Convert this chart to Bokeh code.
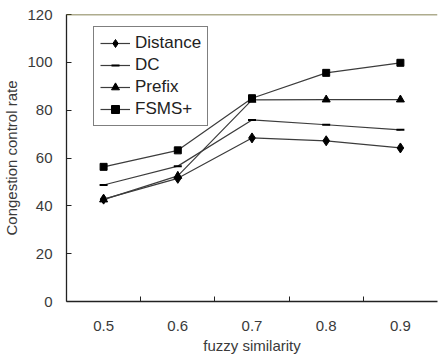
from bokeh.plotting import figure
from bokeh.models import FixedTicker, Span, Legend, LegendItem
from bokeh.embed import file_html
from bokeh.resources import INLINE

x = [0.5, 0.6, 0.7, 0.8, 0.9]
tick_labels = ["0.5", "0.6", "0.7", "0.8", "0.9"]
distance = [42.8, 51.5, 68.4, 67.2, 64.2]
dc = [48.7, 56.6, 75.9, 73.9, 71.8]
prefix = [42.6, 52.5, 84.3, 84.4, 84.4]
fsms = [56.3, 63.2, 85.0, 95.6, 99.8]

FONT = "Liberation Sans"

p = figure(width=438, height=356, output_backend="svg", toolbar_location=None,
           x_range=(0.45, 0.95), y_range=(0, 120),
           min_border_left=10, min_border_right=1, min_border_top=14, min_border_bottom=10)
p.outline_line_color = None
p.grid.grid_line_color = None
p.background_fill_color = "white"

p.xaxis.ticker = FixedTicker(ticks=x, minor_ticks=[0.55, 0.65, 0.75, 0.85])
p.xaxis.major_label_overrides = {v: s for v, s in zip(x, tick_labels)}
p.xaxis.major_tick_in = 0
p.xaxis.major_tick_out = 0
p.xaxis.minor_tick_in = 5
p.xaxis.minor_tick_out = 0
p.xaxis.minor_tick_line_color = "#222222"
p.xaxis.axis_label = "fuzzy similarity"
p.xaxis.major_label_standoff = 19

p.yaxis.ticker = FixedTicker(ticks=[0, 20, 40, 60, 80, 100, 120])
p.yaxis.major_tick_in = 5
p.yaxis.major_tick_out = 0
p.yaxis.major_tick_line_color = "#222222"
p.yaxis.minor_tick_line_color = None
p.yaxis.axis_label = "Congestion control rate"
p.yaxis.major_label_standoff = 14

for ax in (p.xaxis, p.yaxis):
    ax.axis_line_color = "#222222"
    ax.axis_line_width = 1.3
    ax.major_label_text_font = FONT
    ax.major_label_text_font_size = "15px"
    ax.major_label_text_color = "#3a3a3a"
    ax.axis_label_text_font = FONT
    ax.axis_label_text_font_size = "15px"
    ax.axis_label_text_font_style = "normal"
    ax.axis_label_text_color = "#3a3a3a"
p.xaxis.axis_label_standoff = 3
p.yaxis.axis_label_standoff = 4

p.add_layout(Span(location=120, dimension="width", line_color="#5e5a1e", line_width=1.5))

line_color = "#3c3c3c"
items = []
for name, ys, marker, size in [("Distance", distance, "diamond", 10),
                               ("DC", dc, "dash", 8),
                               ("Prefix", prefix, "triangle", 8),
                               ("FSMS+", fsms, "square", 7)]:
    r1 = p.line(x, ys, line_color=line_color, line_width=1.2)
    if marker == "dash":
        r2 = p.scatter(x, ys, marker=marker, size=size, line_color="black", line_width=2)
    else:
        r2 = p.scatter(x, ys, marker=marker, size=size, fill_color="black", line_color="black")
    items.append(LegendItem(label=name, renderers=[r1, r2]))

legend = Legend(items=items, location=(27, 175), border_line_color="black", border_line_width=1,
                label_text_font=FONT, label_text_font_size="17px", label_text_color="#222222",
                glyph_width=30, glyph_height=20, label_height=20, spacing=2, padding=6,
                margin=0, label_standoff=5, background_fill_alpha=1)
p.add_layout(legend, "center")

open("out.html", "w").write(file_html(p, INLINE))
